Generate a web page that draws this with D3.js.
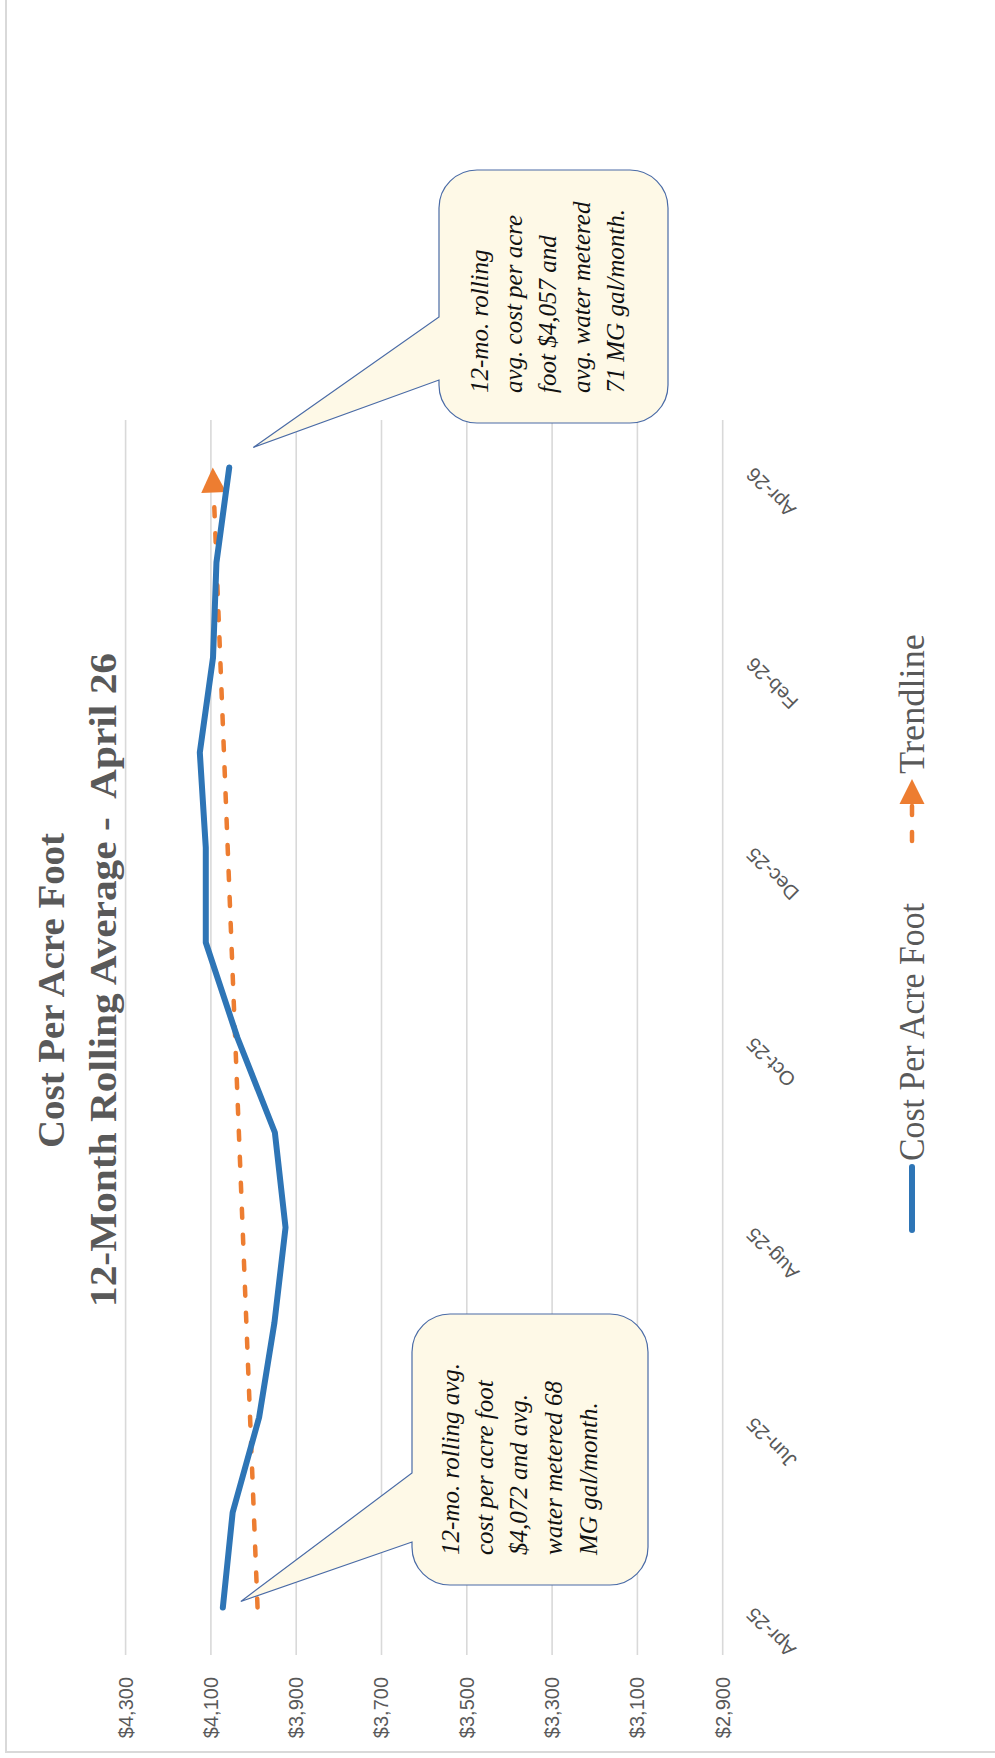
<!DOCTYPE html>
<html>
<head>
<meta charset="utf-8">
<script src="https://cdn.jsdelivr.net/npm/d3@7"></script>
<style>
  html, body { margin: 0; padding: 0; background: #ffffff; }
  svg { display: block; }
</style>
</head>
<body>
<svg id="chart" width="995" height="1758"></svg>
<script>
// ---- data ----
const categories = ["Apr-25","May-25","Jun-25","Jul-25","Aug-25","Sep-25","Oct-25",
                    "Nov-25","Dec-25","Jan-26","Feb-26","Mar-26","Apr-26"];
const costPerAcreFoot = [4072, 4049, 3987, 3951, 3925, 3950, 4038,
                         4112, 4112, 4126, 4095, 4087, 4057];
const valueTicks = [2900, 3100, 3300, 3500, 3700, 3900, 4100, 4300];
const categoryTicks = ["Apr-25","Jun-25","Aug-25","Oct-25","Dec-25","Feb-26","Apr-26"];
const titleLines = ["Cost Per Acre Foot", "12-Month Rolling Average -  April 26"];
const seriesNames = ["Cost Per Acre Foot", "Trendline"];
const waterMeteredMG = [68, 71];

// ---- layout (landscape chart, turned a quarter turn on the page) ----
const W = 1758, H = 995;
const plot = { left: 103, right: 1338, top: 125.6, bottom: 722.7 };
const BLUE = "#2E75B6", ORANGE = "#ED7D31", GRID = "#d9d9d9", INK = "#595959";

const svg = d3.select("#chart");
const root = svg.append("g").attr("transform", `translate(0,${W}) rotate(-90)`);

// chart-area border
root.append("rect")
  .attr("x", 6).attr("y", 6).attr("width", W + 20).attr("height", H + 20)
  .attr("fill", "none").attr("stroke", GRID).attr("stroke-width", 2);

const x = d3.scalePoint().domain(categories).range([plot.left, plot.right]).padding(0.5);
const y = d3.scaleLinear().domain([2900, 4300]).range([plot.bottom, plot.top]);

// gridlines
root.append("g").selectAll("line").data(valueTicks).join("line")
  .attr("x1", plot.left).attr("x2", plot.right)
  .attr("y1", d => y(d)).attr("y2", d => y(d))
  .attr("stroke", GRID).attr("stroke-width", 1.6);

// value axis
const yAxis = root.append("g").attr("transform", `translate(${plot.left},0)`)
  .call(d3.axisLeft(y).tickValues(valueTicks).tickFormat(d3.format("$,")).tickSize(0).tickPadding(22));
yAxis.select(".domain").remove();
yAxis.selectAll("text")
  .attr("font-family", "'Liberation Sans', Arial, sans-serif")
  .attr("font-size", 20).attr("fill", INK);

// category axis
const xAxis = root.append("g").attr("transform", `translate(0,${plot.bottom})`)
  .call(d3.axisBottom(x).tickValues(categoryTicks).tickSize(0).tickPadding(0));
xAxis.select(".domain").remove();
xAxis.selectAll("text")
  .attr("font-family", "'Liberation Sans', Arial, sans-serif")
  .attr("font-size", 20).attr("fill", INK)
  .attr("text-anchor", "end")
  .attr("y", 0).attr("dy", "0.35em")
  .attr("transform", "translate(-4,27) rotate(-45)");

// trendline (least-squares fit of the series)
const n = costPerAcreFoot.length;
const idx = d3.range(n);
const mx = d3.mean(idx), my = d3.mean(costPerAcreFoot);
const slope = d3.sum(idx, i => (i - mx) * (costPerAcreFoot[i] - my)) / d3.sum(idx, i => (i - mx) ** 2);
const intercept = my - slope * mx;
const trendStart = [x(categories[0]), y(intercept)];
const trendEnd = [x(categories[n - 1]), y(intercept + slope * (n - 1))];
const arrowLen = 25, arrowHalf = 12.5;
const dx = trendEnd[0] - trendStart[0], dy = trendEnd[1] - trendStart[1];
const len = Math.hypot(dx, dy), ux = dx / len, uy = dy / len;
const trendBase = [trendEnd[0] - ux * arrowLen, trendEnd[1] - uy * arrowLen];

root.append("line")
  .attr("x1", trendStart[0]).attr("y1", trendStart[1])
  .attr("x2", trendBase[0]).attr("y2", trendBase[1])
  .attr("stroke", ORANGE).attr("stroke-width", 4.5)
  .attr("stroke-dasharray", "9,17").attr("stroke-linecap", "round");
root.append("path")
  .attr("d", `M${trendEnd[0]},${trendEnd[1]}
              L${trendBase[0] - uy * arrowHalf},${trendBase[1] + ux * arrowHalf}
              L${trendBase[0] + uy * arrowHalf},${trendBase[1] - ux * arrowHalf}Z`)
  .attr("fill", ORANGE);

// cost series
root.append("path")
  .datum(costPerAcreFoot)
  .attr("d", d3.line().x((d, i) => x(categories[i])).y(d => y(d)))
  .attr("fill", "none").attr("stroke", BLUE).attr("stroke-width", 6)
  .attr("stroke-linecap", "round").attr("stroke-linejoin", "round");

// titles
const title = root.append("g")
  .attr("font-family", "'Liberation Serif', 'Times New Roman', serif")
  .attr("font-weight", "bold").attr("fill", INK).attr("font-size", 37)
  .attr("text-anchor", "middle");
title.append("text").attr("x", 767.5).attr("y", 64)
  .attr("textLength", 315).attr("lengthAdjust", "spacingAndGlyphs")
  .text(titleLines[0]);
title.append("text").attr("x", 778).attr("y", 116)
  .attr("xml:space", "preserve").style("white-space", "pre")
  .attr("textLength", 654).attr("lengthAdjust", "spacingAndGlyphs")
  .text(titleLines[1]);

// callouts
function calloutPath(b) {
  const { x0, y0, w, h, r, a1, a2, tx, ty } = b;
  return `M${x0 + r},${y0} L${a1},${y0} L${tx},${ty} L${a2},${y0} L${x0 + w - r},${y0}
          A${r},${r} 0 0 1 ${x0 + w},${y0 + r} L${x0 + w},${y0 + h - r}
          A${r},${r} 0 0 1 ${x0 + w - r},${y0 + h} L${x0 + r},${y0 + h}
          A${r},${r} 0 0 1 ${x0},${y0 + h - r} L${x0},${y0 + r}
          A${r},${r} 0 0 1 ${x0 + r},${y0} Z`;
}
const fmt = d3.format("$,");
const callouts = [
  { x0: 173, y0: 412, w: 271, h: 236, r: 38, a1: 216, a2: 285,
    tx: x(categories[0]) + 6, ty: y(costPerAcreFoot[0]) + 18,
    tx0: 203, baselines: [459, 493, 527, 562, 597],
    lines: ["12-mo. rolling avg.", "cost per acre foot",
            `${fmt(costPerAcreFoot[0])} and avg.`, `water metered ${waterMeteredMG[0]}`, "MG gal/month."] },
  { x0: 1335, y0: 439, w: 253, h: 229, r: 38, a1: 1378, a2: 1441,
    tx: x(categories[n - 1]) + 20, ty: y(costPerAcreFoot[n - 1]) + 24,
    tx0: 1365, baselines: [488, 522, 556, 590, 624],
    lines: ["12-mo. rolling", "avg. cost per acre",
            `foot ${fmt(costPerAcreFoot[n - 1])} and`, "avg. water metered", `${waterMeteredMG[1]} MG gal/month.`] }
];
callouts.forEach(c => {
  root.append("path").attr("d", calloutPath(c))
    .attr("fill", "#FEF9E7").attr("stroke", "#4A6BA6").attr("stroke-width", 1.2);
  root.append("g")
    .attr("font-family", "'Liberation Serif', 'Times New Roman', serif")
    .attr("font-style", "italic").attr("font-size", 25).attr("fill", "#111")
    .selectAll("text").data(c.lines).join("text")
    .attr("x", c.tx0).attr("y", (d, i) => c.baselines[i])
    .text(d => d);
});

// legend
const legend = root.append("g")
  .attr("font-family", "'Liberation Serif', 'Times New Roman', serif")
  .attr("font-size", 35).attr("fill", INK);
legend.append("line").attr("x1", 528).attr("x2", 591).attr("y1", 912).attr("y2", 912)
  .attr("stroke", BLUE).attr("stroke-width", 6).attr("stroke-linecap", "round");
legend.append("text").attr("x", 597).attr("y", 924)
  .attr("textLength", 258).attr("lengthAdjust", "spacingAndGlyphs").text(seriesNames[0]);
legend.append("line").attr("x1", 917).attr("x2", 955).attr("y1", 912).attr("y2", 912)
  .attr("stroke", ORANGE).attr("stroke-width", 4.5)
  .attr("stroke-dasharray", "9,17").attr("stroke-linecap", "round");
legend.append("path").attr("d", "M979,912 L954,899.5 L954,924.5Z").attr("fill", ORANGE);
legend.append("text").attr("x", 984).attr("y", 924)
  .attr("textLength", 140).attr("lengthAdjust", "spacingAndGlyphs").text(seriesNames[1]);
</script>
</body>
</html>
